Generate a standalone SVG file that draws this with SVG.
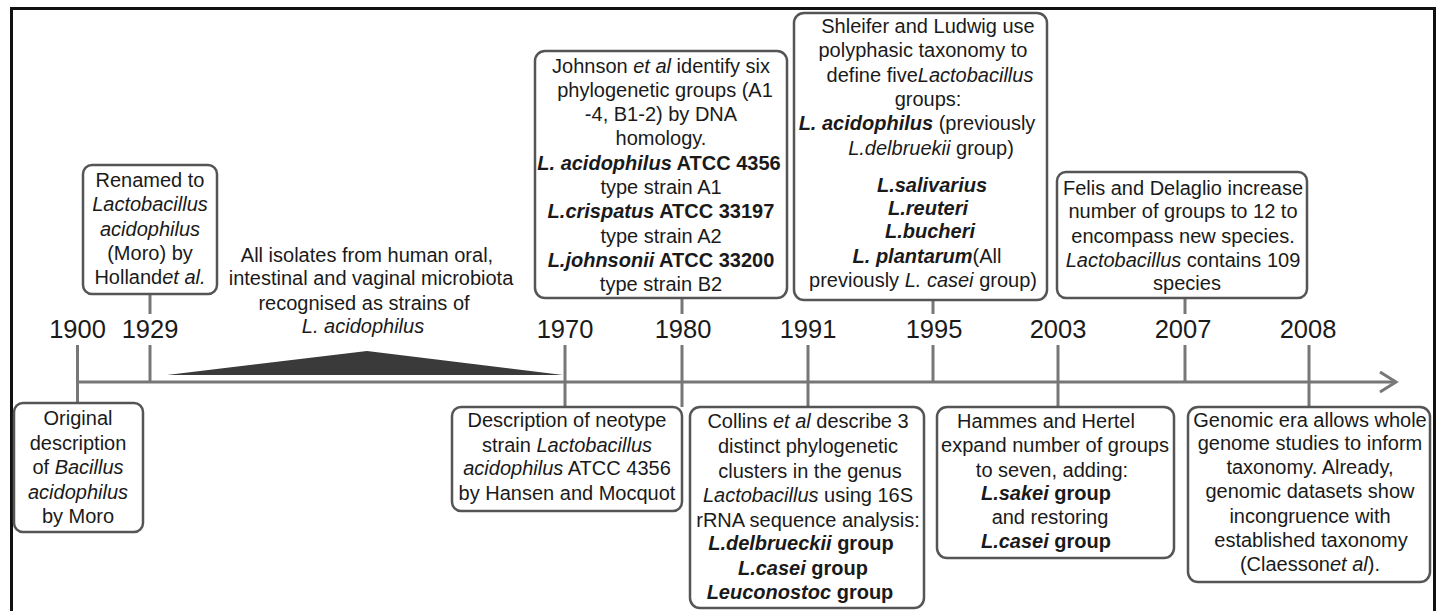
<svg xmlns="http://www.w3.org/2000/svg" width="1441" height="611" viewBox="0 0 1441 611">
<style>
text{font-family:"Liberation Sans",Arial,sans-serif;font-size:20px;fill:#1a1a1a;text-anchor:middle}
.yr{font-size:25.5px}
.box{fill:#fff;stroke:#555;stroke-width:2.5}
.tk{stroke:#777;stroke-width:3;fill:none}
.i{font-style:italic}
.b{font-weight:bold}
.bi{font-weight:bold;font-style:italic}
</style>
<rect x="11.5" y="8.5" width="1423" height="640" fill="#fff" stroke="#111" stroke-width="3"/>
<g id="connectors">
<line class="tk" x1="77" y1="382" x2="1393" y2="382" stroke-width="4.5"/>
<polyline class="tk" points="1380,372 1396,382 1380,392" stroke-width="5" stroke-linejoin="miter"/>
<line class="tk" x1="77.5" y1="345" x2="77.5" y2="404"/>
<line class="tk" x1="150" y1="345" x2="150" y2="382"/>
<line class="tk" x1="150" y1="294" x2="150" y2="314"/>
<line class="tk" x1="565" y1="345" x2="565" y2="407"/>
<line class="tk" x1="682" y1="345" x2="682" y2="407"/>
<line class="tk" x1="682" y1="298" x2="682" y2="314"/>
<line class="tk" x1="808" y1="345" x2="808" y2="407"/>
<line class="tk" x1="933" y1="345" x2="933" y2="382"/>
<line class="tk" x1="933" y1="300" x2="933" y2="314"/>
<line class="tk" x1="1058" y1="345" x2="1058" y2="407"/>
<line class="tk" x1="1185" y1="345" x2="1185" y2="382"/>
<line class="tk" x1="1185" y1="298" x2="1185" y2="314"/>
<line class="tk" x1="1309" y1="345" x2="1309" y2="407"/>
</g>
<g id="years">
<text class="yr" x="77.5" y="338">1900</text>
<text class="yr" x="150" y="338">1929</text>
<text class="yr" x="565" y="338">1970</text>
<text class="yr" x="683" y="338">1980</text>
<text class="yr" x="808" y="338">1991</text>
<text class="yr" x="934" y="338">1995</text>
<text class="yr" x="1058" y="338">2003</text>
<text class="yr" x="1183" y="338">2007</text>
<text class="yr" x="1308" y="338">2008</text>
</g>
<g id="period">
<polygon points="167,375 367,351 563,375" fill="#3a3a3a"/>
<text x="367" y="262">All isolates from human oral,</text>
<text x="371" y="285">intestinal and vaginal microbiota</text>
<text x="364" y="310">recognised as strains of</text>
<text x="363" y="333"><tspan class="i">L. acidophilus</tspan></text>
</g>
<g id="renamed">
<rect class="box" x="83" y="165" width="134" height="129" rx="9"/>
<text x="150" y="187">Renamed to</text>
<text x="150" y="211" class="i">Lactobacillus</text>
<text x="150" y="236" class="i">acidophilus</text>
<text x="150" y="260">(Moro) by</text>
<text x="150" y="284">Holland<tspan class="i">et al.</tspan></text>
</g>
<g id="johnson">
<rect class="box" x="535" y="51" width="252" height="247" rx="10"/>
<text x="661" y="73">Johnson <tspan class="i">et al</tspan> identify six</text>
<text x="665" y="97">phylogenetic groups (A1</text>
<text x="661" y="121">-4, B1-2) by DNA</text>
<text x="661" y="145">homology.</text>
<text x="659" y="170" class="b"><tspan class="bi">L. acidophilus</tspan> ATCC 4356</text>
<text x="661" y="194">type strain A1</text>
<text x="661" y="218" class="b"><tspan class="bi">L.crispatus</tspan> ATCC 33197</text>
<text x="661" y="243">type strain A2</text>
<text x="661" y="267" class="b"><tspan class="bi">L.johnsonii</tspan> ATCC 33200</text>
<text x="661" y="291">type strain B2</text>
</g>
<g id="shleifer">
<rect class="box" x="794" y="13" width="253" height="287" rx="10"/>
<text x="928" y="33">Shleifer and Ludwig use</text>
<text x="923" y="57">polyphasic taxonomy to</text>
<text x="930" y="82">define five<tspan class="i">Lactobacillus</tspan></text>
<text x="928" y="106">groups:</text>
<text x="917" y="130"><tspan class="bi">L. acidophilus</tspan> (previously</text>
<text x="931" y="155"><tspan class="i">L.delbruekii</tspan> group)</text>
<text x="932" y="192" class="bi">L.salivarius</text>
<text x="928" y="215" class="bi">L.reuteri</text>
<text x="930" y="238" class="bi">L.bucheri</text>
<text x="927" y="263"><tspan class="bi">L. plantarum</tspan>(All</text>
<text x="923" y="287">previously  <tspan class="i">L. casei</tspan> group)</text>
</g>
<g id="felis">
<rect class="box" x="1057" y="172" width="250" height="126" rx="9"/>
<text x="1183" y="195">Felis and Delaglio increase</text>
<text x="1183" y="218">number of groups to 12 to</text>
<text x="1183" y="243">encompass new species.</text>
<text x="1183" y="267"><tspan class="i">Lactobacillus</tspan> contains 109</text>
<text x="1187" y="290">species</text>
</g>
<g id="original">
<rect class="box" x="14" y="403" width="129" height="129" rx="9"/>
<text x="78" y="425">Original</text>
<text x="78" y="450">description</text>
<text x="78" y="474">of <tspan class="i">Bacillus</tspan></text>
<text x="78" y="499" class="i">acidophilus</text>
<text x="78" y="523">by Moro</text>
</g>
<g id="neotype">
<rect class="box" x="452" y="407" width="230" height="104" rx="9"/>
<text x="567" y="427">Description of neotype</text>
<text x="567" y="452">strain <tspan class="i">Lactobacillus</tspan></text>
<text x="567" y="475"><tspan class="i">acidophilus</tspan> ATCC 4356</text>
<text x="567" y="500">by Hansen and Mocquot</text>
</g>
<g id="collins">
<rect class="box" x="690" y="407" width="234" height="201" rx="10"/>
<text x="808" y="428">Collins <tspan class="i">et al</tspan> describe 3</text>
<text x="808" y="453">distinct phylogenetic</text>
<text x="810" y="478">clusters in the genus</text>
<text x="808" y="502"><tspan class="i">Lactobacillus</tspan> using 16S</text>
<text x="808" y="527">rRNA sequence analysis:</text>
<text x="801" y="550" class="b"><tspan class="bi">L.delbrueckii</tspan> group</text>
<text x="803" y="575" class="b"><tspan class="bi">L.casei</tspan> group</text>
<text x="800" y="599" class="b"><tspan class="bi">Leuconostoc</tspan> group</text>
</g>
<g id="hammes">
<rect class="box" x="937" y="407" width="237" height="151" rx="10"/>
<text x="1046" y="428">Hammes and Hertel</text>
<text x="1055" y="452">expand number of groups</text>
<text x="1052" y="477">to seven, adding:</text>
<text x="1046" y="500" class="b"><tspan class="bi">L.sakei</tspan> group</text>
<text x="1050" y="524">and restoring</text>
<text x="1046" y="548" class="b"><tspan class="bi">L.casei</tspan> group</text>
</g>
<g id="genomic">
<rect class="box" x="1188" y="407" width="242" height="175" rx="10"/>
<text x="1310" y="427">Genomic era allows whole</text>
<text x="1310" y="450">genome studies to inform</text>
<text x="1310" y="474">taxonomy. Already,</text>
<text x="1310" y="498">genomic datasets show</text>
<text x="1310" y="523">incongruence with</text>
<text x="1311" y="547">established taxonomy</text>
<text x="1310" y="571">(Claesson<tspan class="i">et al</tspan>).</text>
</g>
</svg>
